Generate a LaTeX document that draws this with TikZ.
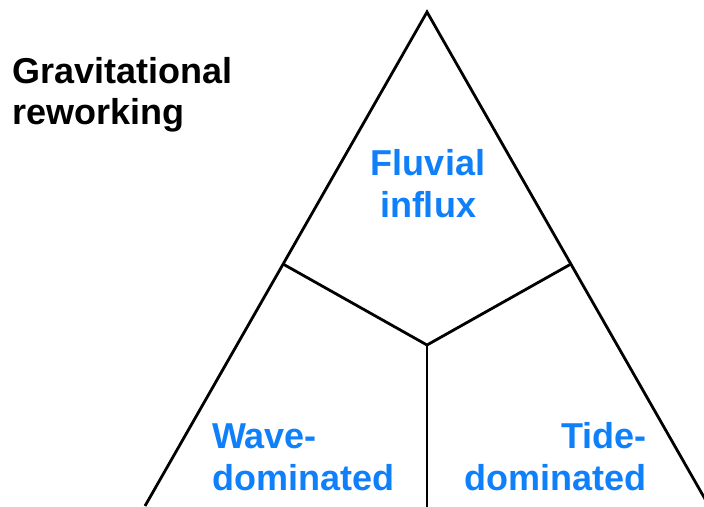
\documentclass[tikz,border=0pt]{standalone}
\usepackage{fontspec}
\setmainfont{Liberation Sans}
\definecolor{lblblue}{RGB}{16,128,250}
\begin{document}
\begin{tikzpicture}[x=1pt,y=-1pt,
  edge/.style={line width=2.8pt,black,line join=miter},
  blk/.style={font=\fontsize{36}{41}\selectfont\bfseries,inner sep=0pt,text=black},
  blu/.style={font=\fontsize{36}{42}\selectfont\bfseries,inner sep=0pt,text=lblblue}]
\useasboundingbox (0,0) rectangle (704,506);
\clip (0,0) rectangle (704,506);
\coordinate (apex) at (427,12);
\coordinate (bl) at (145,506);
\coordinate (br) at (709,506);
\coordinate (L) at (283,264);
\coordinate (R) at (571,264);
\coordinate (C) at (427,345);
\coordinate (B) at (427,510);
\draw[edge] (bl) -- (apex) -- (br);
\draw[edge] (L) -- (C) -- (R);
\draw[edge] (C) -- (B);
\node[blk,anchor=base west,align=left] (grav) at (12,124) {Gravitational\\reworking};
\node[blu,anchor=base,align=center] (fluv) at (428,217) {Fluvial\\influx};
\node[blu,anchor=base west,align=left] (wave) at (212,490) {Wave-\\dominated};
\node[blu,anchor=base east,align=right] (tide) at (647,490) {Tide-\\dominated};
\end{tikzpicture}
\end{document}
